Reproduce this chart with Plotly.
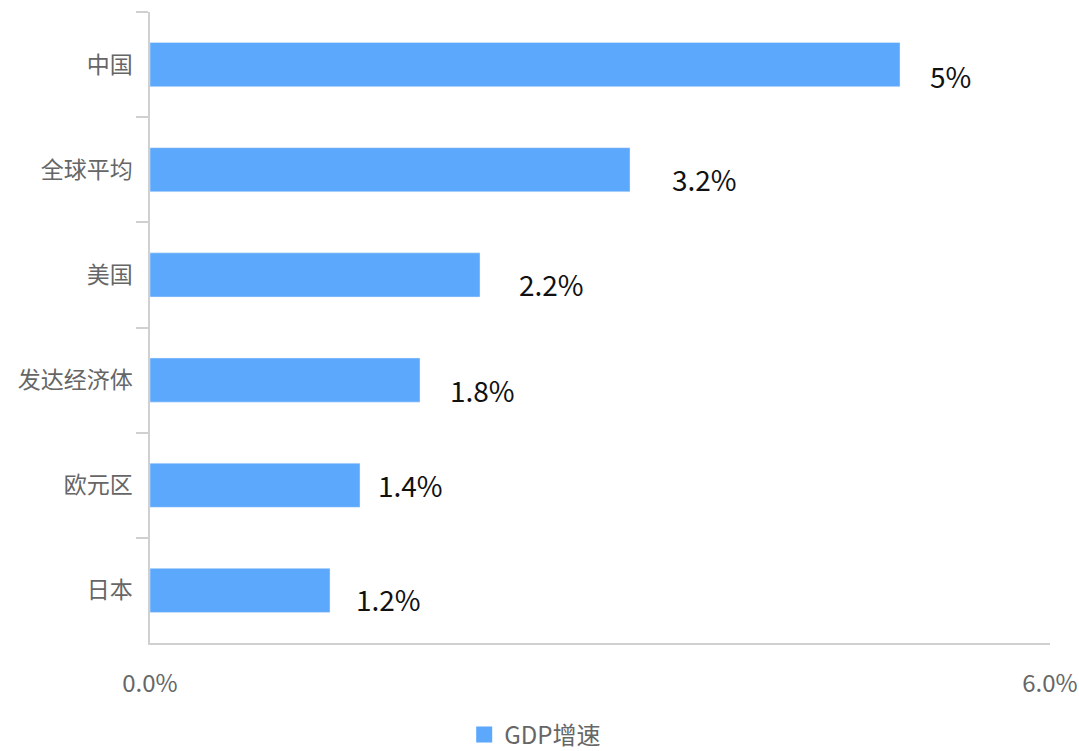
import plotly.graph_objects as go

categories = ["中国", "全球平均", "美国", "发达经济体", "欧元区", "日本"]
values = [5.0, 3.2, 2.2, 1.8, 1.4, 1.2]
value_labels = ["5%", "3.2%", "2.2%", "1.8%", "1.4%", "1.2%"]
x_tickvals = [0, 6]
x_ticktext = ["0.0%", "6.0%"]
series_name = "GDP增速"

# label style offsets (pixels)
label_xshift = [28, 40, 37, 28, 16, 24]
label_yshift = [-11, -9, -9, -10, 0, -9]

FONT = "Noto Sans CJK SC"
BAR = "#5ba8fc"
AX = "#d0d0d0"

fig = go.Figure()
fig.add_trace(go.Bar(
    y=categories, x=values, orientation="h", name=series_name,
    marker=dict(color=BAR), width=0.42, showlegend=False,
))
fig.add_trace(go.Scatter(
    x=[None], y=[None], mode="markers", name=series_name,
    marker=dict(color=BAR, symbol="square", size=18), showlegend=True,
))

for c, v, t, dx, dy in zip(categories, values, value_labels, label_xshift, label_yshift):
    fig.add_annotation(x=v, y=c, text=t, showarrow=False, xanchor="left",
                       yanchor="middle", xshift=dx, yshift=dy,
                       font=dict(family=FONT, size=28, color="#111"))

fig.update_layout(
    width=1079, height=751,
    margin=dict(l=150, r=29, t=12, b=108, autoexpand=False),
    paper_bgcolor="white", plot_bgcolor="white",
    font=dict(family=FONT, color="#666"),
    showlegend=True,
    legend=dict(orientation="h", xref="paper", yref="paper",
                x=0.428, xanchor="center", y=-0.11, yanchor="top",
                font=dict(size=24, color="#666"), itemwidth=30),
)
fig.update_xaxes(range=[0, 6], tickvals=x_tickvals, ticktext=x_ticktext,
                 showgrid=False, zeroline=False, showline=True, linecolor=AX,
                 linewidth=1.5, ticks="inside", ticklen=9, tickcolor=AX,
                 tickfont=dict(size=24, color="#666"), ticklabelstandoff=18,
                 automargin=False)
fig.update_yaxes(categoryorder="array", categoryarray=categories,
                 autorange="reversed", showgrid=False, zeroline=False,
                 showline=True, linecolor=AX, linewidth=1.5,
                 ticks="outside", tickson="boundaries", ticklen=12,
                 tickcolor=AX, tickwidth=1.5, automargin=False,
                 tickfont=dict(size=23, color="#666"), ticklabelstandoff=11)

fig.write_html("out.html")
